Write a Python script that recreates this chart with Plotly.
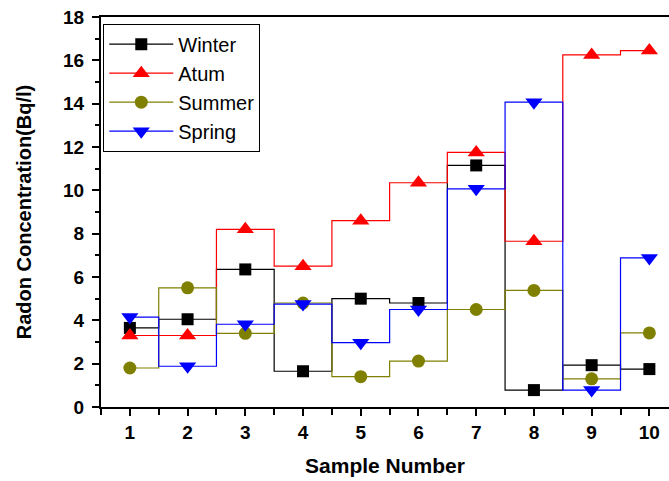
import plotly.graph_objects as go

samples = [1, 2, 3, 4, 5, 6, 7, 8, 9, 10]
winter = [3.65, 4.05, 6.35, 1.65, 5.0, 4.8, 11.15, 0.78, 1.93, 1.75]
atum = [3.3, 3.3, 8.2, 6.5, 8.6, 10.35, 11.75, 7.65, 16.25, 16.45]
summer = [1.8, 5.5, 3.4, 4.8, 1.4, 2.12, 4.5, 5.38, 1.3, 3.42]
spring = [4.15, 1.88, 3.82, 4.75, 2.97, 4.5, 10.07, 14.07, 0.78, 6.88]

series = [
    ("Winter", winter, "#000000", "square", 12),
    ("Atum", atum, "#FF0000", "triangle-up", 15),
    ("Summer", summer, "#808000", "circle", 13),
    ("Spring", spring, "#0000FF", "triangle-down", 15),
]

fig = go.Figure()
for name, vals, col, sym, sz in series:
    fig.add_trace(go.Scatter(
        x=samples, y=vals, name=name, mode="lines+markers",
        line=dict(color=col, width=1.2, shape="hvh"),
        marker=dict(symbol=sym, size=sz, color=col),
    ))

font_family = "Liberation Sans, Arial, sans-serif"
fig.update_layout(
    width=669, height=481,
    margin=dict(l=101, r=0, t=17, b=74),
    plot_bgcolor="white", paper_bgcolor="white",
    font=dict(family=font_family, color="black"),
    showlegend=True,
    legend=dict(
        x=0.004, y=0.983, xanchor="left", yanchor="top",
        bordercolor="black", borderwidth=1, bgcolor="white",
        font=dict(size=20, family=font_family, color="black"),
        itemwidth=64, tracegroupgap=0,
    ),
    xaxis=dict(
        range=[0.5, 10.34], tickmode="array", tickvals=samples,
        ticks="outside", ticklen=7, tickwidth=1.5, tickcolor="black",
        minor=dict(dtick=0.5, tick0=0.5, ticks="outside", ticklen=6, tickwidth=1.5, tickcolor="black"),
        showline=True, linecolor="black", linewidth=2, mirror=True,
        showgrid=False, zeroline=False,
        tickfont=dict(size=19, family=font_family, weight="bold"),
        title=dict(text="Sample Number", font=dict(size=21, family=font_family, weight="bold"), standoff=17),
    ),
    yaxis=dict(
        range=[0, 18], dtick=2, tick0=0,
        ticks="outside", ticklen=7, tickwidth=1.5, tickcolor="black",
        minor=dict(dtick=1, ticks="outside", ticklen=4, tickwidth=1.5, tickcolor="black"),
        showline=True, linecolor="black", linewidth=2, mirror=False,
        showgrid=False, zeroline=False,
        ticklabelstandoff=4,
        tickfont=dict(size=19, family=font_family, weight="bold"),
        title=dict(text="Radon Concentration(Bq/l)", font=dict(size=20, family=font_family, weight="bold"), standoff=26),
    ),
)

fig.write_html("out.html", config={"displayModeBar": False},
               post_script="document.body.style.margin='0';")
